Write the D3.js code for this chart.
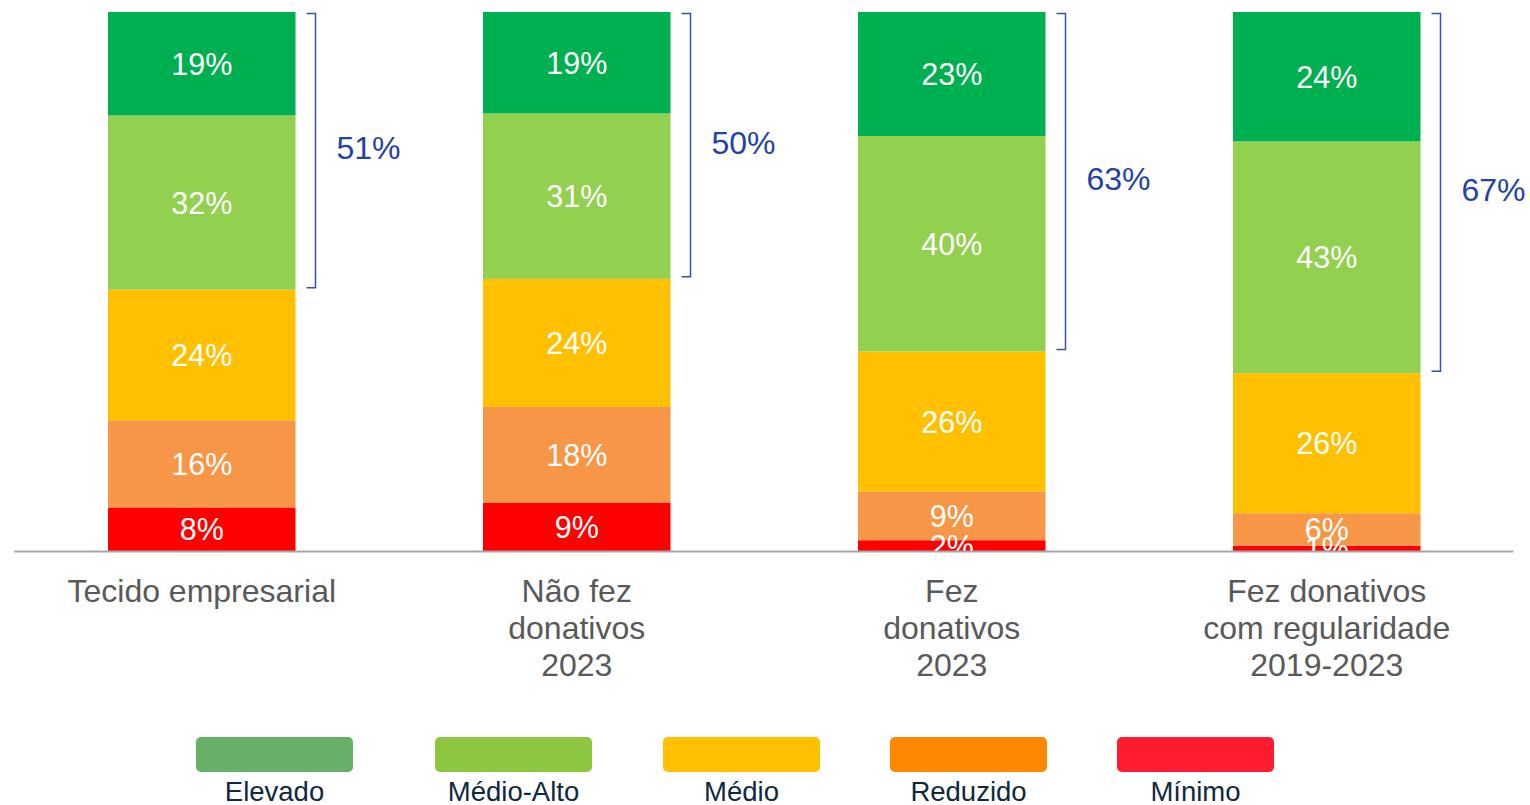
<html>
<head>
<meta charset="utf-8" />
<script src="https://d3js.org/d3.v7.min.js"></script>
<style>
  body { margin: 0; background: #fff; }
  svg { font-family: "Liberation Sans", Arial, sans-serif; }
</style>
</head>
<body>
<svg id="chart" width="1530" height="805"></svg>
<script>
// groups on the x axis (one entry per line of the label)
const groups = [
  ['Tecido empresarial'],
  ['Não fez', 'donativos', '2023'],
  ['Fez', 'donativos', '2023'],
  ['Fez donativos', 'com regularidade', '2019-2023']
];

// stack order, bottom to top
const levels = ['Mínimo', 'Reduzido', 'Médio', 'Médio-Alto', 'Elevado'];

const minimo    = [8, 9, 2, 1];
const reduzido  = [16, 18, 9, 6];
const medio     = [24, 24, 26, 26];
const medioAlto = [32, 31, 40, 43];
const elevado   = [19, 19, 23, 24];

// share of Médio-Alto + Elevado shown beside each bar
const highShare = [51, 50, 63, 67];

// legend goes left to right from the top level down
const legendOrder = ['Elevado', 'Médio-Alto', 'Médio', 'Reduzido', 'Mínimo'];

const barColor = d3.scaleOrdinal()
  .domain(levels)
  .range(['#ff0000', '#f79646', '#ffc000', '#92d050', '#00b050']);

const legendColor = d3.scaleOrdinal()
  .domain(legendOrder)
  .range(['#68af68', '#8dc63f', '#ffc000', '#ff8800', '#ff1c31']);

const rows = groups.map((g, i) => ({
  key: i,
  'Mínimo': minimo[i],
  'Reduzido': reduzido[i],
  'Médio': medio[i],
  'Médio-Alto': medioAlto[i],
  'Elevado': elevado[i]
}));

const series = d3.stack()
  .keys(levels)
  .offset(d3.stackOffsetExpand)(rows);

const svg = d3.select('#chart');

const x = d3.scaleBand()
  .domain(d3.range(groups.length))
  .range([14.25, 1514.25])
  .paddingInner(0.5)
  .paddingOuter(0.25);

const y = d3.scaleLinear()
  .domain([0, 1])
  .range([551, 12]);

// bars
const layer = svg.append('g')
  .selectAll('g')
  .data(series)
  .join('g')
    .attr('fill', d => barColor(d.key));

layer.selectAll('rect')
  .data(d => d.map((v, i) => ({ v, i, key: d.key })))
  .join('rect')
    .attr('x', d => x(d.i))
    .attr('width', x.bandwidth())
    .attr('y', d => y(d.v[1]))
    .attr('height', d => y(d.v[0]) - y(d.v[1]));

// segment labels
svg.append('g')
  .selectAll('g')
  .data(series)
  .join('g')
  .selectAll('text')
  .data(d => d.map((v, i) => ({ v, i, key: d.key, val: rows[i][d.key] })))
  .join('text')
    .attr('x', d => x(d.i) + x.bandwidth() / 2)
    .attr('y', d => (y(d.v[0]) + y(d.v[1])) / 2)
    .attr('dy', '0.36em')
    .attr('text-anchor', 'middle')
    .attr('fill', '#fff')
    .style('font-size', '30.5px')
    .text(d => d.val + '%');

// axis line
svg.append('line')
  .attr('x1', x.range()[0]).attr('x2', x.range()[1] - 1)
  .attr('y1', y(0) + 0.5).attr('y2', y(0) + 0.5)
  .attr('stroke', '#a6a6a6')
  .attr('stroke-width', 2);

// brackets for Médio-Alto + Elevado
const medioTop = series.find(s => s.key === 'Médio');
const br = svg.append('g')
  .selectAll('g')
  .data(highShare)
  .join('g');

br.append('path')
  .attr('fill', 'none')
  .attr('stroke', '#3550ad')
  .attr('stroke-width', 1.5)
  .attr('d', (d, i) => {
    const bx = x(i) + x.bandwidth() + 20;
    const t = y(1) + 1.5;
    const b = y(medioTop[i][1]) - 2;
    return `M${bx - 9},${t}H${bx}V${b}H${bx - 9}`;
  });

br.append('text')
  .attr('x', (d, i) => x(i) + x.bandwidth() + 73)
  .attr('y', (d, i) => (y(1) + y(medioTop[i][1])) / 2 - 3)
  .attr('dy', '0.36em')
  .attr('text-anchor', 'middle')
  .attr('fill', '#2442a5')
  .style('font-size', '32px')
  .text(d => d + '%');

// group labels
const lab = svg.append('g')
  .selectAll('text')
  .data(groups)
  .join('text')
    .attr('x', (d, i) => x(i) + x.bandwidth() / 2)
    .attr('y', 602)
    .attr('text-anchor', 'middle')
    .attr('fill', '#595959')
    .style('font-size', '32px');

lab.selectAll('tspan')
  .data(d => d)
  .join('tspan')
    .attr('x', function () { return d3.select(this.parentNode).attr('x'); })
    .attr('dy', (d, i) => i === 0 ? 0 : 37)
    .text(d => d);

// legend (item centres)
const legendX = [274.5, 513.5, 741.5, 968.5, 1195.5];

const leg = svg.append('g')
  .selectAll('g')
  .data(legendOrder)
  .join('g')
    .attr('transform', (d, i) => `translate(${legendX[i]},0)`);

leg.append('rect')
  .attr('x', -78.5)
  .attr('y', 737)
  .attr('width', 157)
  .attr('height', 35)
  .attr('rx', 5)
  .attr('fill', d => legendColor(d));

leg.append('text')
  .attr('y', 801)
  .attr('text-anchor', 'middle')
  .attr('fill', '#0e2841')
  .style('font-size', '27.5px')
  .text(d => d);
</script>
</body>
</html>
